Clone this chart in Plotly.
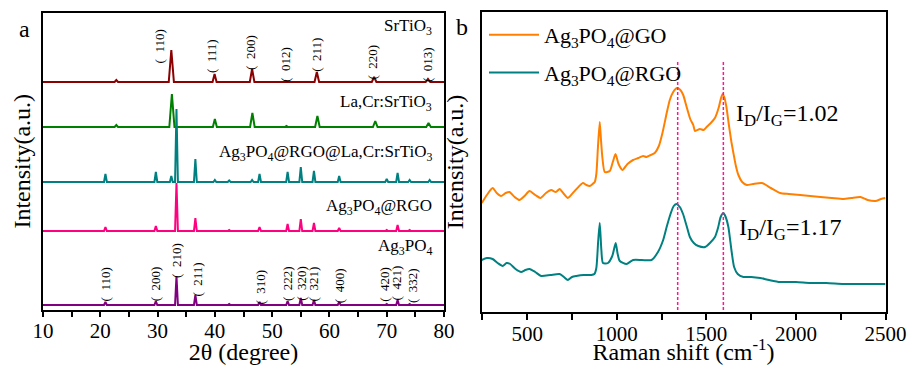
import plotly.graph_objects as go

# ---------------- XRD data (panel a) ----------------
sto_x = [10, 22.5, 22.8, 23.1, 31.95, 32.4, 32.85, 39.6, 39.95, 40.3, 46.1, 46.5, 46.9,
         52.1, 52.4, 52.7, 57.4, 57.8, 58.2, 67.4, 67.8, 68.2, 76.8, 77.2, 77.6, 80]
sto_y = [227.5, 227.5, 229.5, 227.5, 227.5, 259.5, 227.5, 227.5, 235.5, 227.5, 227.5, 240.5, 227.5,
         227.5, 228.5, 227.5, 227.5, 237.5, 227.5, 227.5, 232.5, 227.5, 227.5, 230.5, 227.5, 227.5]

lcs_x = [10, 22.5, 22.8, 23.1, 32.05, 32.5, 32.95, 39.65, 40.0, 40.35, 46.15, 46.55, 46.95,
         52.2, 52.5, 52.8, 57.5, 57.9, 58.3, 67.6, 68.0, 68.4, 76.9, 77.3, 77.7, 80]
lcs_y = [182.5, 182.5, 184.5, 182.5, 182.5, 215.5, 182.5, 182.5, 190.5, 182.5, 182.5, 196.5, 182.5,
         182.5, 183.5, 182.5, 182.5, 193.5, 182.5, 182.5, 188.5, 182.5, 182.5, 186.5, 182.5, 182.5]

comp_x = [10, 20.65, 20.9, 21.15, 29.45, 29.7, 29.95, 32.15, 32.4, 32.65, 33.05, 33.3, 33.55,
          36.35, 36.6, 36.85, 39.75, 40.0, 40.25, 42.25, 42.5, 42.75, 46.25, 46.5, 46.75,
          47.55, 47.8, 48.05, 52.45, 52.7, 52.95, 54.75, 55.0, 55.25, 57.05, 57.3, 57.55,
          61.45, 61.7, 61.95, 69.75, 70.0, 70.25, 71.65, 71.9, 72.15, 73.75, 74.0, 74.25,
          77.25, 77.5, 77.75, 80]
comp_y = [127.5, 127.5, 135.5, 127.5, 127.5, 137.5, 127.5, 127.5, 133.5, 127.5, 127.5, 200.5, 127.5,
          127.5, 150.5, 127.5, 127.5, 129.5, 127.5, 127.5, 129.0, 127.5, 127.5, 129.5, 127.5,
          127.5, 135.5, 127.5, 127.5, 137.5, 127.5, 127.5, 142.5, 127.5, 127.5, 138.5, 127.5,
          127.5, 133.5, 127.5, 127.5, 130.5, 127.5, 127.5, 136.5, 127.5, 127.5, 129.5, 127.5,
          127.5, 129.5, 127.5, 127.5]

apr_x = [10, 20.65, 20.9, 21.15, 29.45, 29.7, 29.95, 33.05, 33.3, 33.55, 36.35, 36.6, 36.85,
         42.25, 42.5, 42.75, 47.55, 47.8, 48.05, 52.45, 52.7, 52.95, 54.75, 55.0, 55.25,
         57.05, 57.3, 57.55, 61.45, 61.7, 61.95, 69.75, 70.0, 70.25, 71.65, 71.9, 72.15,
         73.75, 74.0, 74.25, 80]
apr_y = [78.5, 78.5, 82.5, 78.5, 78.5, 83.5, 78.5, 78.5, 126.5, 78.5, 78.5, 91.5, 78.5,
         78.5, 79.5, 78.5, 78.5, 82.5, 78.5, 78.5, 85.5, 78.5, 78.5, 90.5, 78.5,
         78.5, 86.5, 78.5, 78.5, 81.5, 78.5, 78.5, 79.5, 78.5, 78.5, 84.5, 78.5,
         78.5, 79.5, 78.5, 78.5]

ap_x = apr_x
ap_y = [4.5, 4.5, 7.5, 4.5, 4.5, 8.5, 4.5, 4.5, 33.5, 4.5, 4.5, 14.5, 4.5,
        4.5, 5.5, 4.5, 4.5, 7.5, 4.5, 4.5, 8.5, 4.5, 4.5, 11.5, 4.5,
        4.5, 9.5, 4.5, 4.5, 7.5, 4.5, 4.5, 5.5, 4.5, 4.5, 9.5, 4.5,
        4.5, 5.5, 4.5, 4.5]

xrd_names = ["SrTiO<sub>3</sub>", "La,Cr:SrTiO<sub>3</sub>",
             "Ag<sub>3</sub>PO<sub>4</sub>@RGO@La,Cr:SrTiO<sub>3</sub>",
             "Ag<sub>3</sub>PO<sub>4</sub>@RGO", "Ag<sub>3</sub>PO<sub>4</sub>"]
xrd_colors = ["#8B0000", "#008000", "#008080", "#FF0080", "#800080"]
xrd_label_y = [27, 103, 153, 207, 247]  # px from top

# Miller indices
sto_hkl = ["110", "111", "200", "012", "211", "220", "013"]
sto_hkl_x = [30.5, 39.5, 46.3, 52.4, 57.8, 67.6, 77.2]
sto_hkl_y = [263.5, 253.5, 257.5, 245.5, 254.5, 248.0, 245.5]

ap_hkl = ["110", "200", "210", "211", "310", "222", "320", "321", "400", "420", "421", "332"]
ap_hkl_x = [20.9, 29.6, 33.2, 36.8, 47.8, 52.6, 55.0, 57.2, 61.7, 69.5, 71.7, 74.5]
ap_hkl_y = [25.5, 25.5, 49.5, 29.5, 22.5, 25.5, 26.5, 25.5, 23.5, 25.5, 26.5, 24.0]

# ---------------- Raman data (panel b) ----------------
go_x = [247, 275, 307, 330, 354, 380, 401, 430, 457, 485, 513, 545, 574, 605, 634, 660, 681, 705,
        727, 770, 811, 830, 849, 865, 877, 886, 895, 905, 912, 920, 933, 961, 978,
        993, 1010, 1032, 1060, 1091, 1120, 1147, 1166, 1190, 1212, 1235, 1255, 1280, 1296, 1315,
        1337, 1355, 1371, 1390, 1410, 1427, 1437, 1464, 1485, 1502, 1525, 1548, 1570, 1582,
        1591, 1600, 1612, 1625, 1640, 1651, 1665, 1679, 1700, 1726, 1760, 1810, 1860, 1912,
        1960, 2024, 2080, 2136, 2200, 2266, 2310, 2360, 2400, 2444, 2475, 2500]
go_y = [109, 117, 124, 119, 116, 119, 120, 115, 112, 116, 121, 117, 114, 119, 122, 120, 123, 118,
        114, 122, 129, 127, 126, 128, 130, 138, 165, 190, 172, 154, 140, 141, 150,
        158, 148, 142, 148, 152, 154, 156, 155, 157, 159, 166, 179, 200, 212, 220,
        224, 222, 217, 205, 193, 187, 181, 183, 182, 185, 189, 194, 205, 214,
        218, 215, 205, 188, 170, 159, 146, 137, 130, 127, 128, 129, 124, 119,
        118, 117, 116, 115, 114, 113, 114, 115, 112, 111, 113, 114]

rgo_x = [247, 275, 307, 335, 363, 385, 405, 435, 466, 490, 513, 545, 578, 630, 681, 705, 727,
         750, 774, 815, 858, 875, 886, 896, 905, 914, 923, 951, 975, 994, 1005, 1017, 1054,
         1091, 1140, 1194, 1230, 1259, 1280, 1300, 1318, 1334, 1352, 1370, 1390, 1408, 1430,
         1455, 1493, 1520, 1548, 1565, 1580, 1595, 1608, 1623, 1640, 1655, 1675, 1707, 1750,
         1800, 1850, 1912, 2000, 2080, 2170, 2266, 2380, 2500]
rgo_y = [52, 54, 53, 49, 46, 49, 48, 43, 40, 42, 43, 40, 36, 37, 38, 35, 32,
         35, 36, 37, 37, 38, 44, 70, 89, 62, 49, 49, 56, 69, 58, 51, 48,
         52, 52, 52, 60, 72, 86, 98, 106, 108, 105, 98, 86, 75, 69,
         66, 65, 69, 75, 84, 95, 99, 95, 85, 62, 45, 38, 35, 35,
         34, 32, 30, 30, 29, 29, 28, 28, 28]

d_band = 1340
g_band = 1595

W, H = 911, 365
FONT = "Liberation Serif, Times New Roman, Times, serif"

def px(x):
    return x / W

def py(y):
    return 1 - y / H

fig = go.Figure()

xrd_data = [(sto_x, sto_y), (lcs_x, lcs_y), (comp_x, comp_y), (apr_x, apr_y), (ap_x, ap_y)]
for (xs, ys), nm, col in zip(xrd_data, xrd_names, xrd_colors):
    fig.add_trace(go.Scatter(x=xs, y=ys, mode="lines", name=nm, showlegend=False,
                             line=dict(color=col, width=2), xaxis="x", yaxis="y"))

fig.add_trace(go.Scatter(x=go_x, y=go_y, mode="lines", name="Ag<sub>3</sub>PO<sub>4</sub>@GO",
                         line=dict(color="#FF8000", width=2, shape="spline", smoothing=0.6),
                         xaxis="x2", yaxis="y2", legendgroup="go"))
fig.add_trace(go.Scatter(x=rgo_x, y=rgo_y, mode="lines", name="Ag<sub>3</sub>PO<sub>4</sub>@RGO",
                         line=dict(color="#008080", width=2, shape="spline", smoothing=0.6),
                         xaxis="x2", yaxis="y2", legendgroup="rgo"))

annotations = []
for nm, yy in zip(xrd_names, xrd_label_y):
    annotations.append(dict(text=nm, x=px(434), y=py(yy), xref="paper", yref="paper",
                            xanchor="right", yanchor="middle", showarrow=False,
                            font=dict(size=17, family=FONT, color="black")))
for lab, xx, yy in zip(sto_hkl + ap_hkl, sto_hkl_x + ap_hkl_x, sto_hkl_y + ap_hkl_y):
    annotations.append(dict(text="(&nbsp;&nbsp;" + lab + ")", x=xx, y=yy, xref="x", yref="y",
                            textangle=-90, xanchor="center", yanchor="middle", showarrow=False,
                            font=dict(size=13, family=FONT, color="black")))
annotations.append(dict(text="I<sub>D</sub>/I<sub>G</sub>=1.02", x=px(734), y=py(115),
                        xref="paper", yref="paper", xanchor="left", yanchor="middle",
                        showarrow=False, font=dict(size=24, family=FONT, color="black")))
annotations.append(dict(text="I<sub>D</sub>/I<sub>G</sub>=1.17", x=px(737), y=py(229),
                        xref="paper", yref="paper", xanchor="left", yanchor="middle",
                        showarrow=False, font=dict(size=24, family=FONT, color="black")))
annotations.append(dict(text="a", x=px(24), y=py(29), xref="paper", yref="paper",
                        xanchor="center", yanchor="middle", showarrow=False,
                        font=dict(size=24, family=FONT, color="black")))
annotations.append(dict(text="b", x=px(462), y=py(27), xref="paper", yref="paper",
                        xanchor="center", yanchor="middle", showarrow=False,
                        font=dict(size=24, family=FONT, color="black")))

shapes = []
for xv in (d_band, g_band):
    shapes.append(dict(type="line", xref="x2", yref="y2", x0=xv, x1=xv, y0=2, y1=250,
                       line=dict(color="#FF1493", width=1.5, dash="3px,2px")))

axis_common = dict(showline=True, linecolor="black", linewidth=1.5, mirror=True,
                   showgrid=False, zeroline=False, automargin=False)
tickf = dict(size=21, family=FONT, color="black")
titlef = dict(size=24, family=FONT, color="black")

fig.update_layout(
    template="none",
    width=W, height=H,
    margin=dict(l=0, r=0, t=0, b=0),
    paper_bgcolor="white", plot_bgcolor="white",
    font=dict(family=FONT, color="black"),
    xaxis=dict(domain=[px(43), px(444)], range=[10, 80], anchor="y",
               tickmode="linear", tick0=10, dtick=10, ticks="outside", ticklen=6,
               tickwidth=1.5, tickcolor="black", tickfont=tickf, ticklabelstandoff=-4,
               minor=dict(dtick=5, ticks="outside", ticklen=6, tickwidth=1.5, tickcolor="black"),
               title=dict(text="2θ (degree)", font=titlef, standoff=6),
               **axis_common),
    yaxis=dict(domain=[py(309.5), py(13)], range=[0, 296.5], anchor="x",
               showticklabels=False, ticks="",
               title=dict(text="Intensity(a.u.)", font=titlef, standoff=4),
               **axis_common),
    xaxis2=dict(domain=[px(481.5), px(885.5)], range=[245, 2500], anchor="y2",
                tickmode="linear", tick0=500, dtick=500, ticks="outside", ticklen=6,
                tickwidth=1.5, tickcolor="black", tickfont=tickf, ticklabelstandoff=-4,
                minor=dict(dtick=250, ticks="outside", ticklen=6, tickwidth=1.5, tickcolor="black"),
                title=dict(text="Raman shift (cm<sup>-1</sup>)", font=titlef, standoff=6),
                **axis_common),
    yaxis2=dict(domain=[py(312), py(12)], range=[0, 300], anchor="x2",
                showticklabels=False, ticks="",
                title=dict(text="Intensity(a.u.)", font=titlef, standoff=9),
                **axis_common),
    legend=dict(x=px(484), y=py(14), xanchor="left", yanchor="top",
                font=dict(size=22, family=FONT, color="black"),
                bgcolor="rgba(0,0,0,0)", tracegroupgap=6, itemwidth=50),
    annotations=annotations,
    shapes=shapes,
)

fig.write_html("out.html")
